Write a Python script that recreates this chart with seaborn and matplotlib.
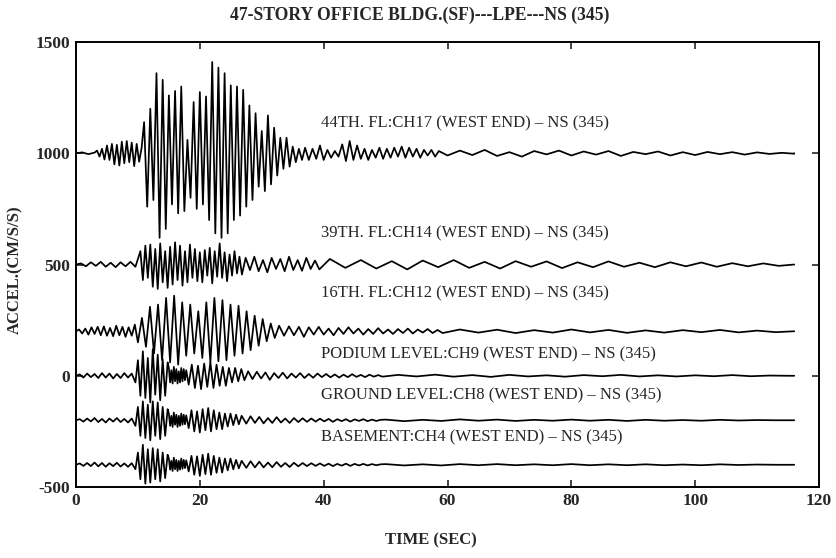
import numpy as np
import pandas as pd
import matplotlib
matplotlib.use("Agg")
import matplotlib.pyplot as plt
import seaborn as sns

sns.set_style("ticks")
plt.rcParams['font.family'] = ['Liberation Serif', 'DejaVu Serif']
plt.rcParams['axes.unicode_minus'] = False

# each record: (start time, spacing between extrema, extrema values in cm/s/s)
# 44th floor, ch17
f44_pre = (0.0, 1.0, [0, 4, -4, 3])
f44_early = (3.4, 0.4, [12, -15, 20, -28, 35, -30, 42, -50, 38, -55, 52, -45, 55, -40, 48, -58, 42, -38, 25])
f44_main = (11.0, 0.5, [140, -240, 200, -210, 360, -380, 330, -340, 260, -230, 280, -270, 300, -260, 60, -200,
                        230, -250, 275, -230, 255, -300, 410, -360, 385, -380, 360, -360, 305, -300, 300, -280,
                        285, -240, 215, -210, 180, -150, 100, -170, 170, -140, 115, -100, 70, -70, 70, -60,
                        30, -40, 20, -30])
f44_tail1 = (37.0, 0.6, [25, -30, 20, -25, 35, -30, 15, -20, 10, -15, 40, -35, 55, -30, 35, -25, 20, -30, 15,
                         -20, 25, -25, 20, -20, 25, -15, 30, -20, 25, -15, 20, -20, 15, -10, 15, -15, 10])
f44_tail2 = (60.0, 2.0, [-10, 12, -8, 15, -12, 5, -15, 10, -5, 12, -10, 8, -6, 10, -12, 6, -4, 8, -10, 5, -8, 6,
                         -4, 5, -6, 4, -3, 2, -2])

# 39th floor, ch14
f39_pre = (0.0, 0.8, [0, 5, -8, 10, -6, 12, -10, 8, -12, 10, -8, 12, -10])
f39_main = (10.4, 0.4, [60, -70, 85, -60, 90, -100, 70, -110, 95, -80, 60, -105, 80, -90, 100, -70, 85, -95,
                        60, -80, 90, -60, 70, -75, 55, -80, 65, -50, 75, -85, 60, -55, 95, -60, 55, -75, 45,
                        -50, 60, -40, 35, -45])
f39_mid = (27.4, 0.7, [30, -25, 35, -30, 20, -35, 30, -20, 25, -30, 35, -25, 20, -28, 30, -20, 18, -22])
f39_tail = (41.0, 2.5, [25, -15, 20, -18, 15, -22, 18, -12, 20, -15, 12, -18, 15, -10, 14, -16, 10, -12, 14,
                        -10, 8, -12, 10, -8, 9, -10, 6, -8, 5, -6, 0])

# 16th floor, ch12
f16_pre = (0.0, 0.5, [0, 8, -10, 12, -15, 18, -12, 20, -18, 22, -20, 15, -22, 25, -18, 20, -25, 18, -20, 30])
f16_main = (10.0, 0.65, [-50, 60, -70, 110, -100, 120, -130, 150, -140, 160, -150, 130, -110, 120, -100, 90,
                         -120, 130, -140, 150, -135, 140, -130, 120, -110, 115, -100, 90, -85, 70, -65, 55,
                         -45, 35, -30])
f16_tail1 = (32.8, 0.8, [25, -20, 22, -18, 20, -25, 18, -15, 20, -15, 12, -18, 15, -12, 18, -10, 12, -15, 10,
                         -12, 14, -10, 8, -12, 10, -8, 12, -10, 8, -6, 10, -8, 6, -8])
f16_tail2 = (62.0, 3.0, [8, -6, 7, -8, 5, -6, 8, -5, 6, -7, 4, -6, 5, -4, 6, -5, 3, -4, 0])

# podium level, ch9
pod_pre = (0.0, 0.6, [0, 6, -8, 10, -6, 8, -10, 12, -8, 10, -12, 8, -10, 12, -8, 10])
pod_main = (9.6, 0.4, [-30, 70, -90, 110, -100, 80, -120, 120, -85, 95, -110, 75, -90, 60])
pod_dense = (15.0, 0.2, [35, -30, 25, -35, 40, -25, 30, -35, 20, -30, 35, -25, 30, -20, 25])
pod_wave = (18.2, 0.5, [-40, 50, -55, 45, -60, 55, -50, 60, -55, 50, -45, 40, -45, 35, -30, 35, -25, 30, -20])
pod_tail1 = (27.8, 0.7, [20, -15, 18, -12, 15, -18, 12, -10, 14, -12, 10, -8, 12, -10, 8, -9, 10, -6, 8, -7,
                         6, -8, 5, -6, 7, -5, 4, -6, 5, -4, 3, -4])
pod_tail2 = (52.0, 3.0, [4, -3, 5, -4, 3, -5, 4, -3, 2, -4, 3, -2, 4, -3, 2, -3, 2, -2, 3, -2, 1, 0])

# ground level, ch8
grd_pre = (0.0, 0.6, [0, 5, -6, 8, -5, 10, -8, 6, -10, 8, -6, 10, -8, 6, -10, 8])
grd_main = (9.6, 0.4, [-25, 60, -70, 85, -80, 70, -90, 85, -70, 80, -85, 60, -70, 50])
grd_dense = (15.0, 0.2, [30, -25, 20, -30, 35, -20, 25, -30, 20, -25, 30, -20, 25, -18, 22])
grd_wave = (18.2, 0.45, [-35, 45, -50, 40, -55, 50, -45, 55, -50, 45, -40, 35, -40, 30, -28, 30, -22, 25, -18, 20])
grd_tail1 = (27.5, 0.7, [-15, 18, -12, 15, -14, 10, -12, 14, -10, 8, -12, 10, -8, 9, -7, 8, -6, 7, -5, 6, -7,
                         5, -4, 5, -6, 4, -3, 5, -4, 3, -3, 2])
grd_tail2 = (50.0, 3.0, [3, -4, 2, -3, 4, -2, 3, -3, 2, -2, 3, -2, 2, -3, 2, -2, 1, -2, 2, -1, 1, 0])

# basement, ch4
bas_pre = (0.0, 0.6, [0, 6, -5, 8, -6, 10, -7, 8, -9, 7, -6, 9, -8, 6, -9, 7])
bas_main = (9.6, 0.4, [-20, 55, -65, 90, -85, 70, -80, 75, -65, 70, -75, 55, -60, 45])
bas_dense = (15.0, 0.2, [28, -22, 18, -28, 32, -20, 22, -28, 18, -22, 28, -18, 22, -15, 20])
bas_wave = (18.2, 0.45, [-30, 40, -45, 38, -50, 45, -42, 50, -45, 40, -36, 32, -35, 28, -25, 28, -20, 22, -16, 18])
bas_tail1 = (27.5, 0.7, [-14, 16, -12, 14, -12, 10, -11, 12, -9, 8, -10, 9, -7, 8, -6, 7, -5, 6, -5, 5, -6,
                         4, -4, 5, -5, 4, -3, 4, -3, 3, -2, 2])
bas_tail2 = (50.0, 3.0, [3, -3, 2, -3, 3, -2, 3, -2, 2, -2, 3, -2, 2, -2, 2, -2, 1, -2, 2, -1, 1, 0])

END_T = 116.0

channels = ["44TH. FL:CH17 (WEST END) \u2013 NS (345)",
            "39TH. FL:CH14 (WEST END) \u2013 NS (345)",
            "16TH. FL:CH12 (WEST END) \u2013 NS (345)",
            "PODIUM LEVEL:CH9 (WEST END) \u2013 NS (345)",
            "GROUND LEVEL:CH8 (WEST END) \u2013 NS (345)",
            "BASEMENT:CH4 (WEST END) \u2013 NS (345)"]
offsets = [1000, 500, 200, 0, -200, -400]
label_y = [1136, 642, 372, 98, -86, -279]
records = [[f44_pre, f44_early, f44_main, f44_tail1, f44_tail2],
           [f39_pre, f39_main, f39_mid, f39_tail],
           [f16_pre, f16_main, f16_tail1, f16_tail2],
           [pod_pre, pod_main, pod_dense, pod_wave, pod_tail1, pod_tail2],
           [grd_pre, grd_main, grd_dense, grd_wave, grd_tail1, grd_tail2],
           [bas_pre, bas_main, bas_dense, bas_wave, bas_tail1, bas_tail2]]


def build(segs, offset):
    t, v = [], []
    for t0, dt, vals in segs:
        t.extend(t0 + dt * np.arange(len(vals)))
        v.extend(vals)
    t.append(END_T)
    v.append(0)
    return pd.DataFrame({"time": t, "accel": np.array(v, float) + offset})


fig = plt.figure(figsize=(8.37, 5.58), dpi=100)
ax = fig.add_axes([0.0908, 0.1272, 0.8877, 0.7975])

for segs, off, name, ly in zip(records, offsets, channels, label_y):
    df = build(segs, off)
    sns.lineplot(data=df, x="time", y="accel", color="black", linewidth=1.25,
                 estimator=None, sort=False, ax=ax)
    ax.text(39.5, ly, name, fontsize=12, va="center", ha="left")

ax.set_xlim(0, 120)
ax.set_ylim(-500, 1500)
ax.set_xticks(range(0, 121, 20))
ax.set_yticks([-500, 0, 500, 1000, 1500])
ax.set_xlabel("")
ax.set_ylabel("")
ax.tick_params(direction="in", top=True, right=True, length=5, width=1.2,
               labelsize=12.5, pad=4)
for lab in ax.get_xticklabels() + ax.get_yticklabels():
    lab.set_fontweight("bold")
for sp in ax.spines.values():
    sp.set_linewidth(1.4)
    sp.set_color("black")

fig.text(0.502, 1 - 15 / 558, "47-STORY OFFICE BLDG.(SF)---LPE---NS (345)",
         fontsize=12.7, fontweight="bold", ha="center", va="center")
fig.text(0.515, 1 - 540 / 558, "TIME (SEC)", fontsize=12, fontweight="bold",
         ha="center", va="center")
fig.text(0.018, 0.516, "ACCEL.(CM/S/S)", fontsize=12, fontweight="bold",
         rotation=90, ha="center", va="center")

fig.savefig("out.png", dpi=100)
